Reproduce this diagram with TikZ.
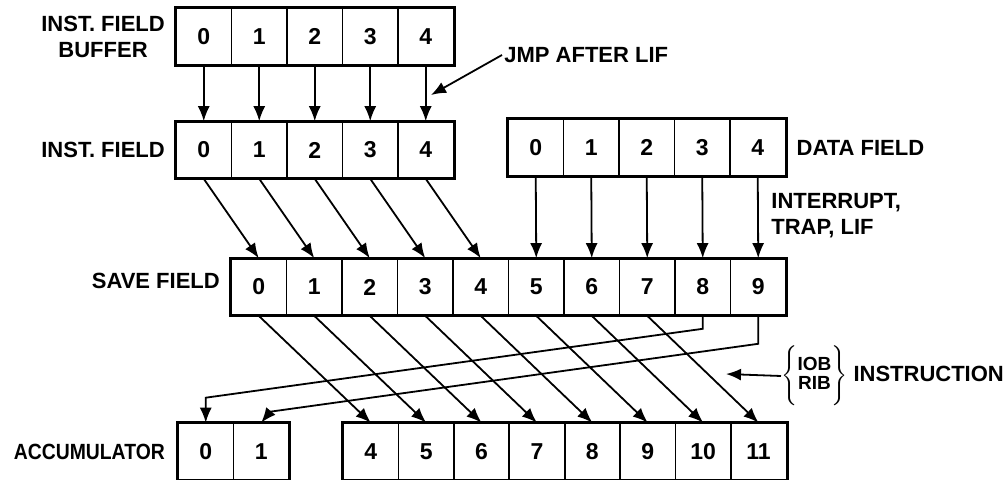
\documentclass[tikz,border=0pt]{standalone}
\usepackage{fontspec}
\setmainfont{Liberation Sans}
\usetikzlibrary{arrows.meta,positioning}

\tikzset{
  cell/.style={draw, line width=0.8pt, minimum width=27.75pt, minimum height=28pt,
    inner sep=0pt, font=\fontsize{11.5}{13}\selectfont\bfseries},
  frame/.style={line width=1.5pt},
  lbl/.style={font=\fontsize{11}{13}\selectfont\bfseries, inner sep=1pt},
  arr/.style={line width=0.9pt, -{Latex[length=7.5pt,width=6pt]}}
}

\begin{document}
\begin{tikzpicture}[x=0.5pt,y=-0.5pt]
    \useasboundingbox (0,0) rectangle (1008,480);

    % Inst. field buffer
    \foreach \k in {0,...,4}
      \node[cell] (b\k) at ({203.75+55.5*\k},36.5) {\k};
    \draw[frame] (b0.north west) rectangle (b4.south east);
    \node[lbl, align=center, left=4pt of b0] (lbuf) {INST.\ FIELD\\BUFFER};

    % Inst. field
    \foreach \k in {0,...,4}
      \node[cell] (i\k) at ({203.75+55.5*\k},150) {\k};
    \draw[frame] (i0.north west) rectangle (i4.south east);
    \node[lbl, left=4pt of i0] (linst) {INST.\ FIELD};

    % Data field
    \foreach \k in {0,...,4}
      \node[cell] (d\k) at ({535.75+55.5*\k},147.5) {\k};
    \draw[frame] (d0.north west) rectangle (d4.south east);
    \node[lbl, right=4pt of d4] (ldata) {DATA FIELD};

    % Save field
    \foreach \k in {0,...,9}
      \node[cell] (s\k) at ({258.75+55.5*\k},287) {\k};
    \draw[frame] (s0.north west) rectangle (s9.south east);
    \node[lbl, left=4pt of s0, yshift=3pt] (lsave) {SAVE FIELD};

    % Accumulator
    \node[cell] (a0) at (205.75,451.5) {0};
    \node[cell] (a1) at (261.25,451.5) {1};
    \draw[frame] (a0.north west) rectangle (a1.south east);
    \foreach \k in {4,...,11}
      \node[cell] (a\k) at ({370.75+55.4*(\k-4)},451.5) {\k};
    \draw[frame] (a4.north west) rectangle (a11.south east);
    \node[lbl, left=5pt of a0] (lacc) {\scalebox{0.88}[1]{ACCUMULATOR}};

    % Transfers
    \foreach \k in {0,...,4}
      \draw[arr] (b\k.south) -- (i\k.north);
    \foreach \k in {0,...,4}
      \draw[arr] (i\k.south) -- (s\k.north);
    \foreach \k/\j in {0/5,1/6,2/7,3/8,4/9}
      \draw[arr] (d\k.south) -- (s\j.north);
    \foreach \k/\j in {0/4,1/5,2/6,3/7,4/8,5/9,6/10,7/11}
      \draw[arr] (s\k.south) -- (a\j.north);
    \draw[arr] (s8.south) -- ++(0,13) -- ([yshift=12.5pt]a0.north) -- (a0.north);
    \draw[arr] (s9.south) -- ++(0,28) -- ([xshift=4.5pt,yshift=5.5pt]a1.north) -- (a1.north);

    % JMP after LIF
    \node[lbl, anchor=west] (jmp) at (502,55) {JMP AFTER LIF};
    \coordinate (jmptip) at (431,95);
    \draw[arr] (jmp.west) -- (jmptip);

    % Interrupt
    \node[lbl, anchor=west, align=left] (intr) at (769,216) {INTERRUPT,\\TRAP, LIF};

    % IOB / RIB instruction
    \node[lbl, anchor=west, inner sep=0pt] (instr) at (781,376)
      {$\Bigg\{\vcenter{\hbox{\fontsize{9.5}{10.5}\selectfont\bfseries
        \begin{tabular}{@{}c@{}}IOB\\[-1pt]RIB\end{tabular}}}\Bigg\}$ INSTRUCTION};
    \coordinate (iotip) at (726,374);
    \draw[arr] (instr.west) -- (iotip);
  \end{tikzpicture}
\end{document}
